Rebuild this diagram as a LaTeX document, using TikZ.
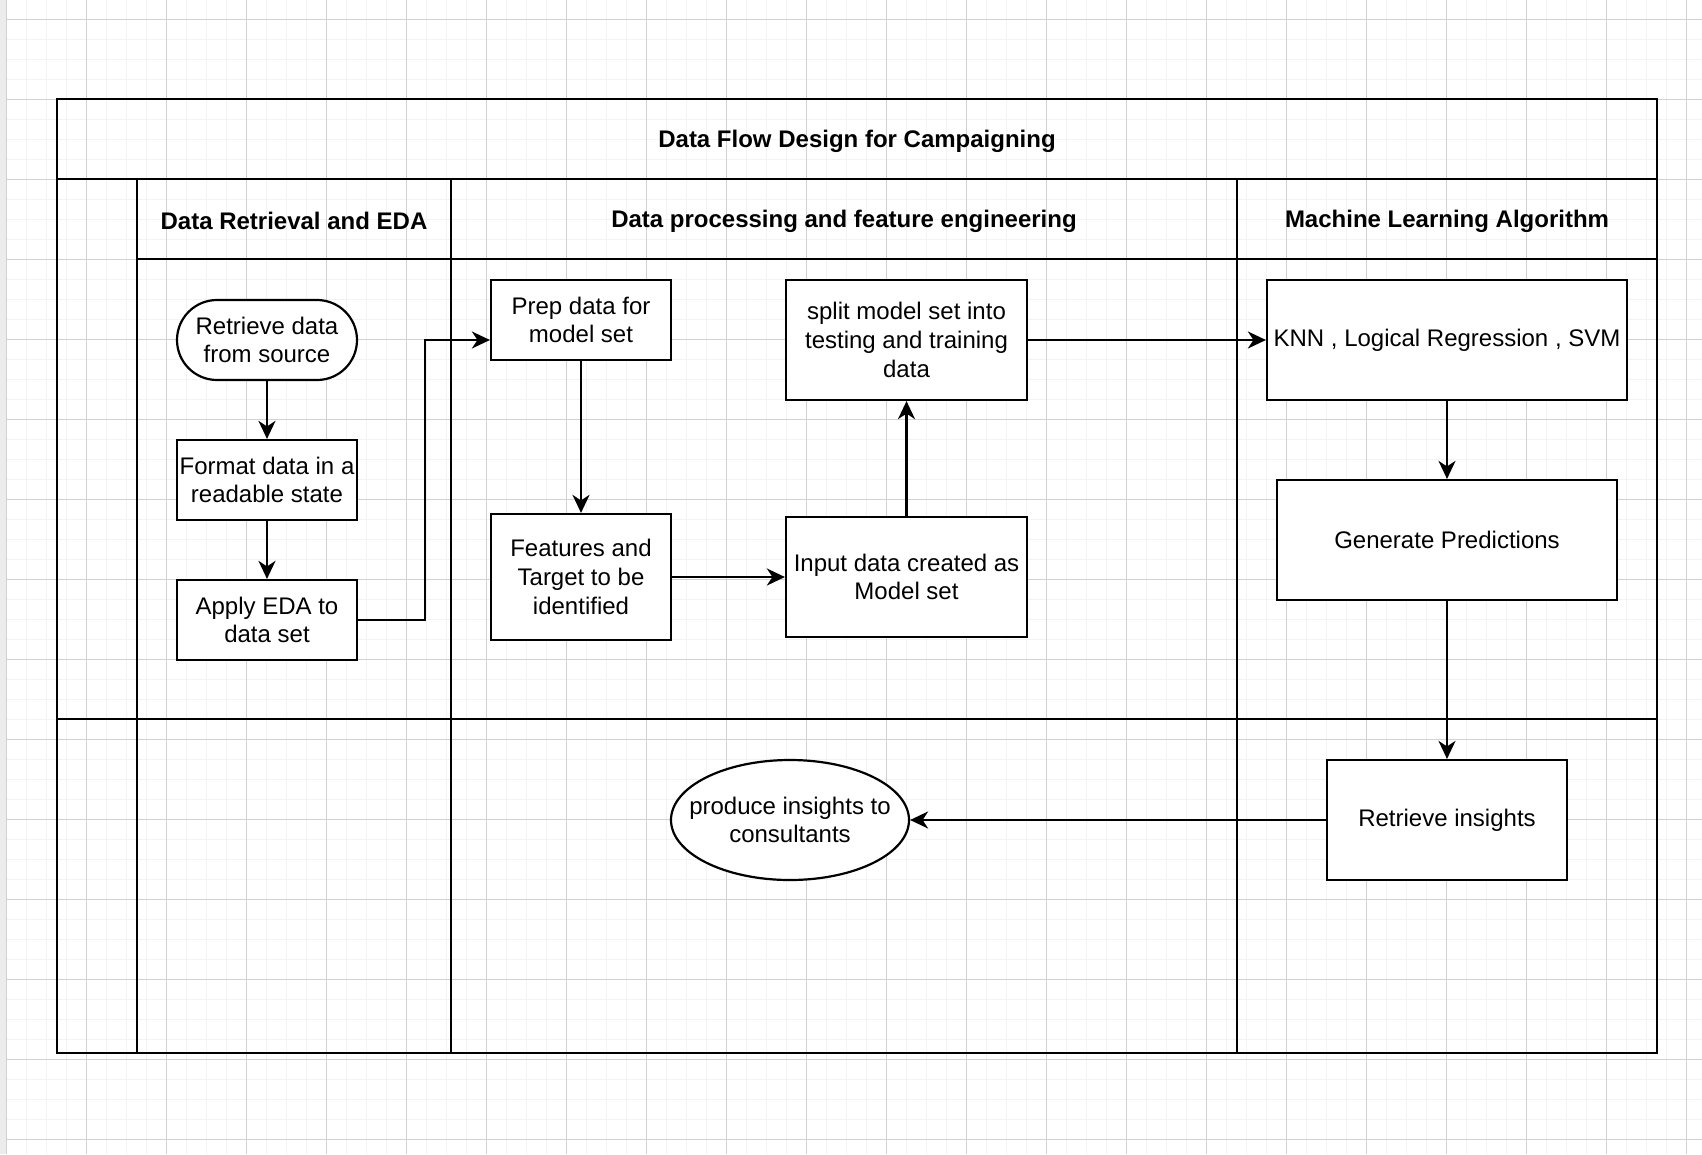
\documentclass[tikz,border=0pt]{standalone}
\usepackage{fontspec}
\setmainfont{Liberation Sans}
\usetikzlibrary{arrows.meta,shapes.geometric}
\definecolor{gridminor}{RGB}{243,243,243}
\definecolor{gridmajor}{RGB}{210,210,210}
\definecolor{strip}{RGB}{236,236,236}
\tikzset{
  lane/.style={line width=2.2pt, line cap=rect},
  box/.style={draw, line width=2.2pt, fill=white, inner sep=0pt, align=center,
    font=\fontsize{24}{28.8}\selectfont},
  stadium/.style={box, rounded corners=40pt},
  oval/.style={draw, line width=2.2pt, fill=white, ellipse, inner sep=0pt},
  lbl/.style={inner sep=0pt, align=center, font=\fontsize{24}{28.8}\selectfont},
  hdr/.style={inner sep=0pt, align=center, font=\fontsize{24}{28.8}\selectfont\bfseries},
  arr/.style={line width=2.2pt, -{Stealth[length=18pt,width=17pt,inset=5.5pt]}}
}
\begin{document}
\begin{tikzpicture}[x=1pt,y=-1pt]
\useasboundingbox (0,0) rectangle (1702,1154);
\fill[white] (0,0) rectangle (1702,1154);
% grid
\foreach \i in {0,...,85} {\draw[gridminor, line width=1.3pt] (6.7+20*\i,0) -- (6.7+20*\i,1154);}
\foreach \j in {0,...,57} {\draw[gridminor, line width=1.3pt] (0,19.3+20*\j) -- (1702,19.3+20*\j);}
\foreach \i in {0,...,21} {\draw[gridmajor, line width=1pt] (6.7+80*\i,0) -- (6.7+80*\i,1154);}
\foreach \j in {0,...,14} {\draw[gridmajor, line width=1pt] (0,19.3+80*\j) -- (1702,19.3+80*\j);}
\fill[strip] (0,0) rectangle (6,1154);
\draw[black!18, line width=1pt] (6,0) -- (6,1154);
% pool and lanes
\draw[lane] (57,99) rectangle (1657,1053);
\draw[lane] (57,179) -- (1657,179);
\draw[lane] (137,259) -- (1657,259);
\draw[lane] (137,179) -- (137,1053);
\draw[lane] (451,179) -- (451,1053);
\draw[lane] (1237,179) -- (1237,1053);
\draw[lane] (57,719) -- (1657,719);
% headings
\node[hdr] (title) at (857,141) {Data Flow Design for Campaigning};
\node[hdr] (h1) at (294,221) {Data Retrieval and EDA};
\node[hdr] (h2) at (844,221) {Data processing and feature engineering};
\node[hdr] (h3) at (1447,221) {Machine Learning Algorithm};
% nodes
\node[stadium, minimum width=180pt, minimum height=80pt] (rd) at (267,340) {Retrieve data\\from source};
\node[box, minimum width=180pt, minimum height=80pt] (fmt) at (267,480) {Format data in a\\readable state};
\node[box, minimum width=180pt, minimum height=80pt] (eda) at (267,620) {Apply EDA to\\data set};
\node[box, minimum width=180pt, minimum height=80pt] (prep) at (581,320) {Prep data for\\model set};
\node[box, minimum width=180pt, minimum height=126pt] (feat) at (581,577) {Features and\\Target to be\\identified};
\node[box, minimum width=241pt, minimum height=120pt] (split) at (906.5,340) {split model set into\\testing and training\\data};
\node[box, minimum width=241pt, minimum height=120pt] (input) at (906.5,577) {Input data created as\\Model set};
\node[box, minimum width=360pt, minimum height=120pt] (knn) at (1447,340) {KNN , Logical Regression , SVM};
\node[box, minimum width=340pt, minimum height=120pt] (gen) at (1447,540) {Generate Predictions};
\node[box, minimum width=240pt, minimum height=120pt] (ri) at (1447,820) {Retrieve insights};
\node[oval, minimum width=238pt, minimum height=120pt] (pi) at (790,820) {};
\node[lbl] (pitext) at (pi.center) {produce insights to\\consultants};
% connectors
\draw[arr] (rd.south) -- (fmt.north);
\draw[arr] (fmt.south) -- (eda.north);
\draw[arr] (eda.east) -- ++(67,0) |- ([yshift=-20pt]prep.west);
\draw[arr] (prep.south) -- (feat.north);
\draw[arr] (feat.east) -- (input.west);
\draw[arr] (input.north) -- (split.south);
\draw[arr] (split.east) -- (knn.west);
\draw[arr] (knn.south) -- (gen.north);
\draw[arr] (gen.south) -- (ri.north);
\draw[arr] (ri.west) -- (pi.east);
\end{tikzpicture}
\end{document}
